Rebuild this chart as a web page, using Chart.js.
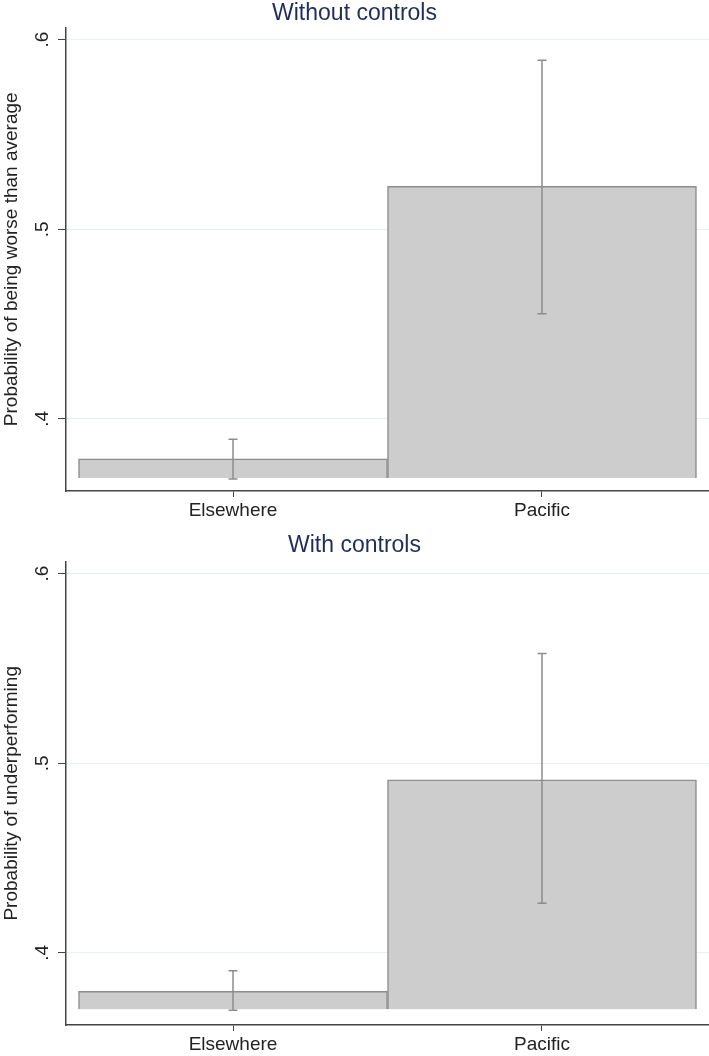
<!DOCTYPE html>
<html>
<head>
<meta charset="utf-8">
<script src="https://cdn.jsdelivr.net/npm/chart.js@4"></script>
<style>
    body { margin: 0; background: #fff; }
    .panel { position: relative; width: 709px; height: 528px; }
</style>
</head>
<body>
<div class="panel"><canvas id="chartWithout"></canvas></div>
<div class="panel"><canvas id="chartWith"></canvas></div>
<script>
const categories = ['Elsewhere', 'Pacific'];

// Without controls
const withoutMean = [0.3789, 0.5226];
const withoutLow = [0.3683, 0.4554];
const withoutHigh = [0.3893, 0.5891];
const withoutBase = 0.3689;

// With controls
const withMean = [0.3797, 0.4912];
const withLow = [0.3698, 0.4262];
const withHigh = [0.3906, 0.5578];
const withBase = 0.3703;

const yTicks = [0.4, 0.5, 0.6];
const yTickLabels = ['.4', '.5', '.6'];

const fontFamily = '"Liberation Sans", Arial, sans-serif';

const errorBars = {
    id: 'errorBars',
    afterDatasetsDraw(chart, args, opts) {
        const ctx = chart.ctx;
        const x = chart.scales.x, y = chart.scales.y;
        ctx.save();
        ctx.strokeStyle = '#8c8c8c';
        ctx.lineWidth = 1.5;
        opts.low.forEach(function(lo, i) {
            const px = x.getPixelForValue(i + 1);
            const yl = y.getPixelForValue(lo);
            const yh = y.getPixelForValue(opts.high[i]);
            ctx.beginPath();
            ctx.moveTo(px, yl); ctx.lineTo(px, yh);
            ctx.moveTo(px - 4.5, yl); ctx.lineTo(px + 4.5, yl);
            ctx.moveTo(px - 4.5, yh); ctx.lineTo(px + 4.5, yh);
            ctx.stroke();
        });
        ctx.restore();
    }
};

// y tick labels are turned like the Stata ones
const rotatedYTicks = {
    id: 'rotatedYTicks',
    afterDraw(chart) {
        const ctx = chart.ctx;
        const y = chart.scales.y;
        ctx.save();
        ctx.font = '19px ' + fontFamily;
        ctx.fillStyle = '#222';
        ctx.textAlign = 'center';
        ctx.textBaseline = 'middle';
        yTicks.forEach(function(v, i) {
            ctx.save();
            ctx.translate(y.right - 23, y.getPixelForValue(v));
            ctx.rotate(-Math.PI / 2);
            ctx.fillText(yTickLabels[i], 0, 0);
            ctx.restore();
        });
        ctx.restore();
    }
};

function makeChart(id, title, yTitle, mean, low, high, base, titlePad, xHeight) {
    const ctx = document.getElementById(id).getContext('2d');
    return new Chart(ctx, {
        type: 'bar',
        data: {
            datasets: [{
                data: categories.map(function(c, i) { return { x: i + 1, y: mean[i] }; }),
                base: base,
                backgroundColor: '#cdcdcd',
                borderColor: '#8d8d8d',
                borderWidth: 1.5,
                barPercentage: 1,
                categoryPercentage: 1
            }]
        },
        options: {
            responsive: true,
            maintainAspectRatio: false,
            animation: false,
            layout: { padding: 0 },
            plugins: {
                legend: { display: false },
                tooltip: { enabled: false },
                title: {
                    display: true,
                    text: title,
                    color: '#1f2d5c',
                    font: { family: fontFamily, size: 23, weight: 'normal' },
                    padding: titlePad
                },
                errorBars: { low: low, high: high }
            },
            scales: {
                x: {
                    type: 'linear',
                    offset: false,
                    min: 0.4595,
                    max: 2.5405,
                    afterBuildTicks: function(s) {
                        s.ticks = categories.map(function(c, i) { return { value: i + 1 }; });
                    },
                    afterFit: function(s) { s.height = xHeight; },
                    ticks: {
                        color: '#222',
                        font: { family: fontFamily, size: 19 },
                        padding: 2,
                        maxRotation: 0,
                        callback: function(v) { return categories[v - 1]; }
                    },
                    grid: {
                        offset: false,
                        drawOnChartArea: false,
                        drawTicks: true,
                        tickLength: 6,
                        tickColor: '#444'
                    },
                    border: { display: true, color: '#444', width: 1.5 }
                },
                y: {
                    min: 0.362,
                    max: 0.6063,
                    afterBuildTicks: function(s) {
                        s.ticks = yTicks.map(function(v) { return { value: v }; });
                    },
                    afterFit: function(s) { s.width = 66; },
                    ticks: { display: false },
                    grid: {
                        color: '#e8f0f2',
                        lineWidth: 1,
                        drawTicks: true,
                        tickLength: 8,
                        tickColor: '#444'
                    },
                    border: { display: true, color: '#444', width: 1.5 },
                    title: {
                        display: true,
                        text: yTitle,
                        color: '#222',
                        font: { family: fontFamily, size: 19 },
                        padding: 0
                    }
                }
            }
        },
        plugins: [errorBars, rotatedYTicks]
    });
}

document.addEventListener('DOMContentLoaded', function() {
    makeChart('chartWithout', 'Without controls', 'Probability of being worse than average',
        withoutMean, withoutLow, withoutHigh, withoutBase, { top: 0, bottom: 0 }, 37);
    makeChart('chartWith', 'With controls', 'Probability of underperforming',
        withMean, withLow, withHigh, withBase, { top: 4, bottom: 2 }, 31);
});
</script>
</body>
</html>
